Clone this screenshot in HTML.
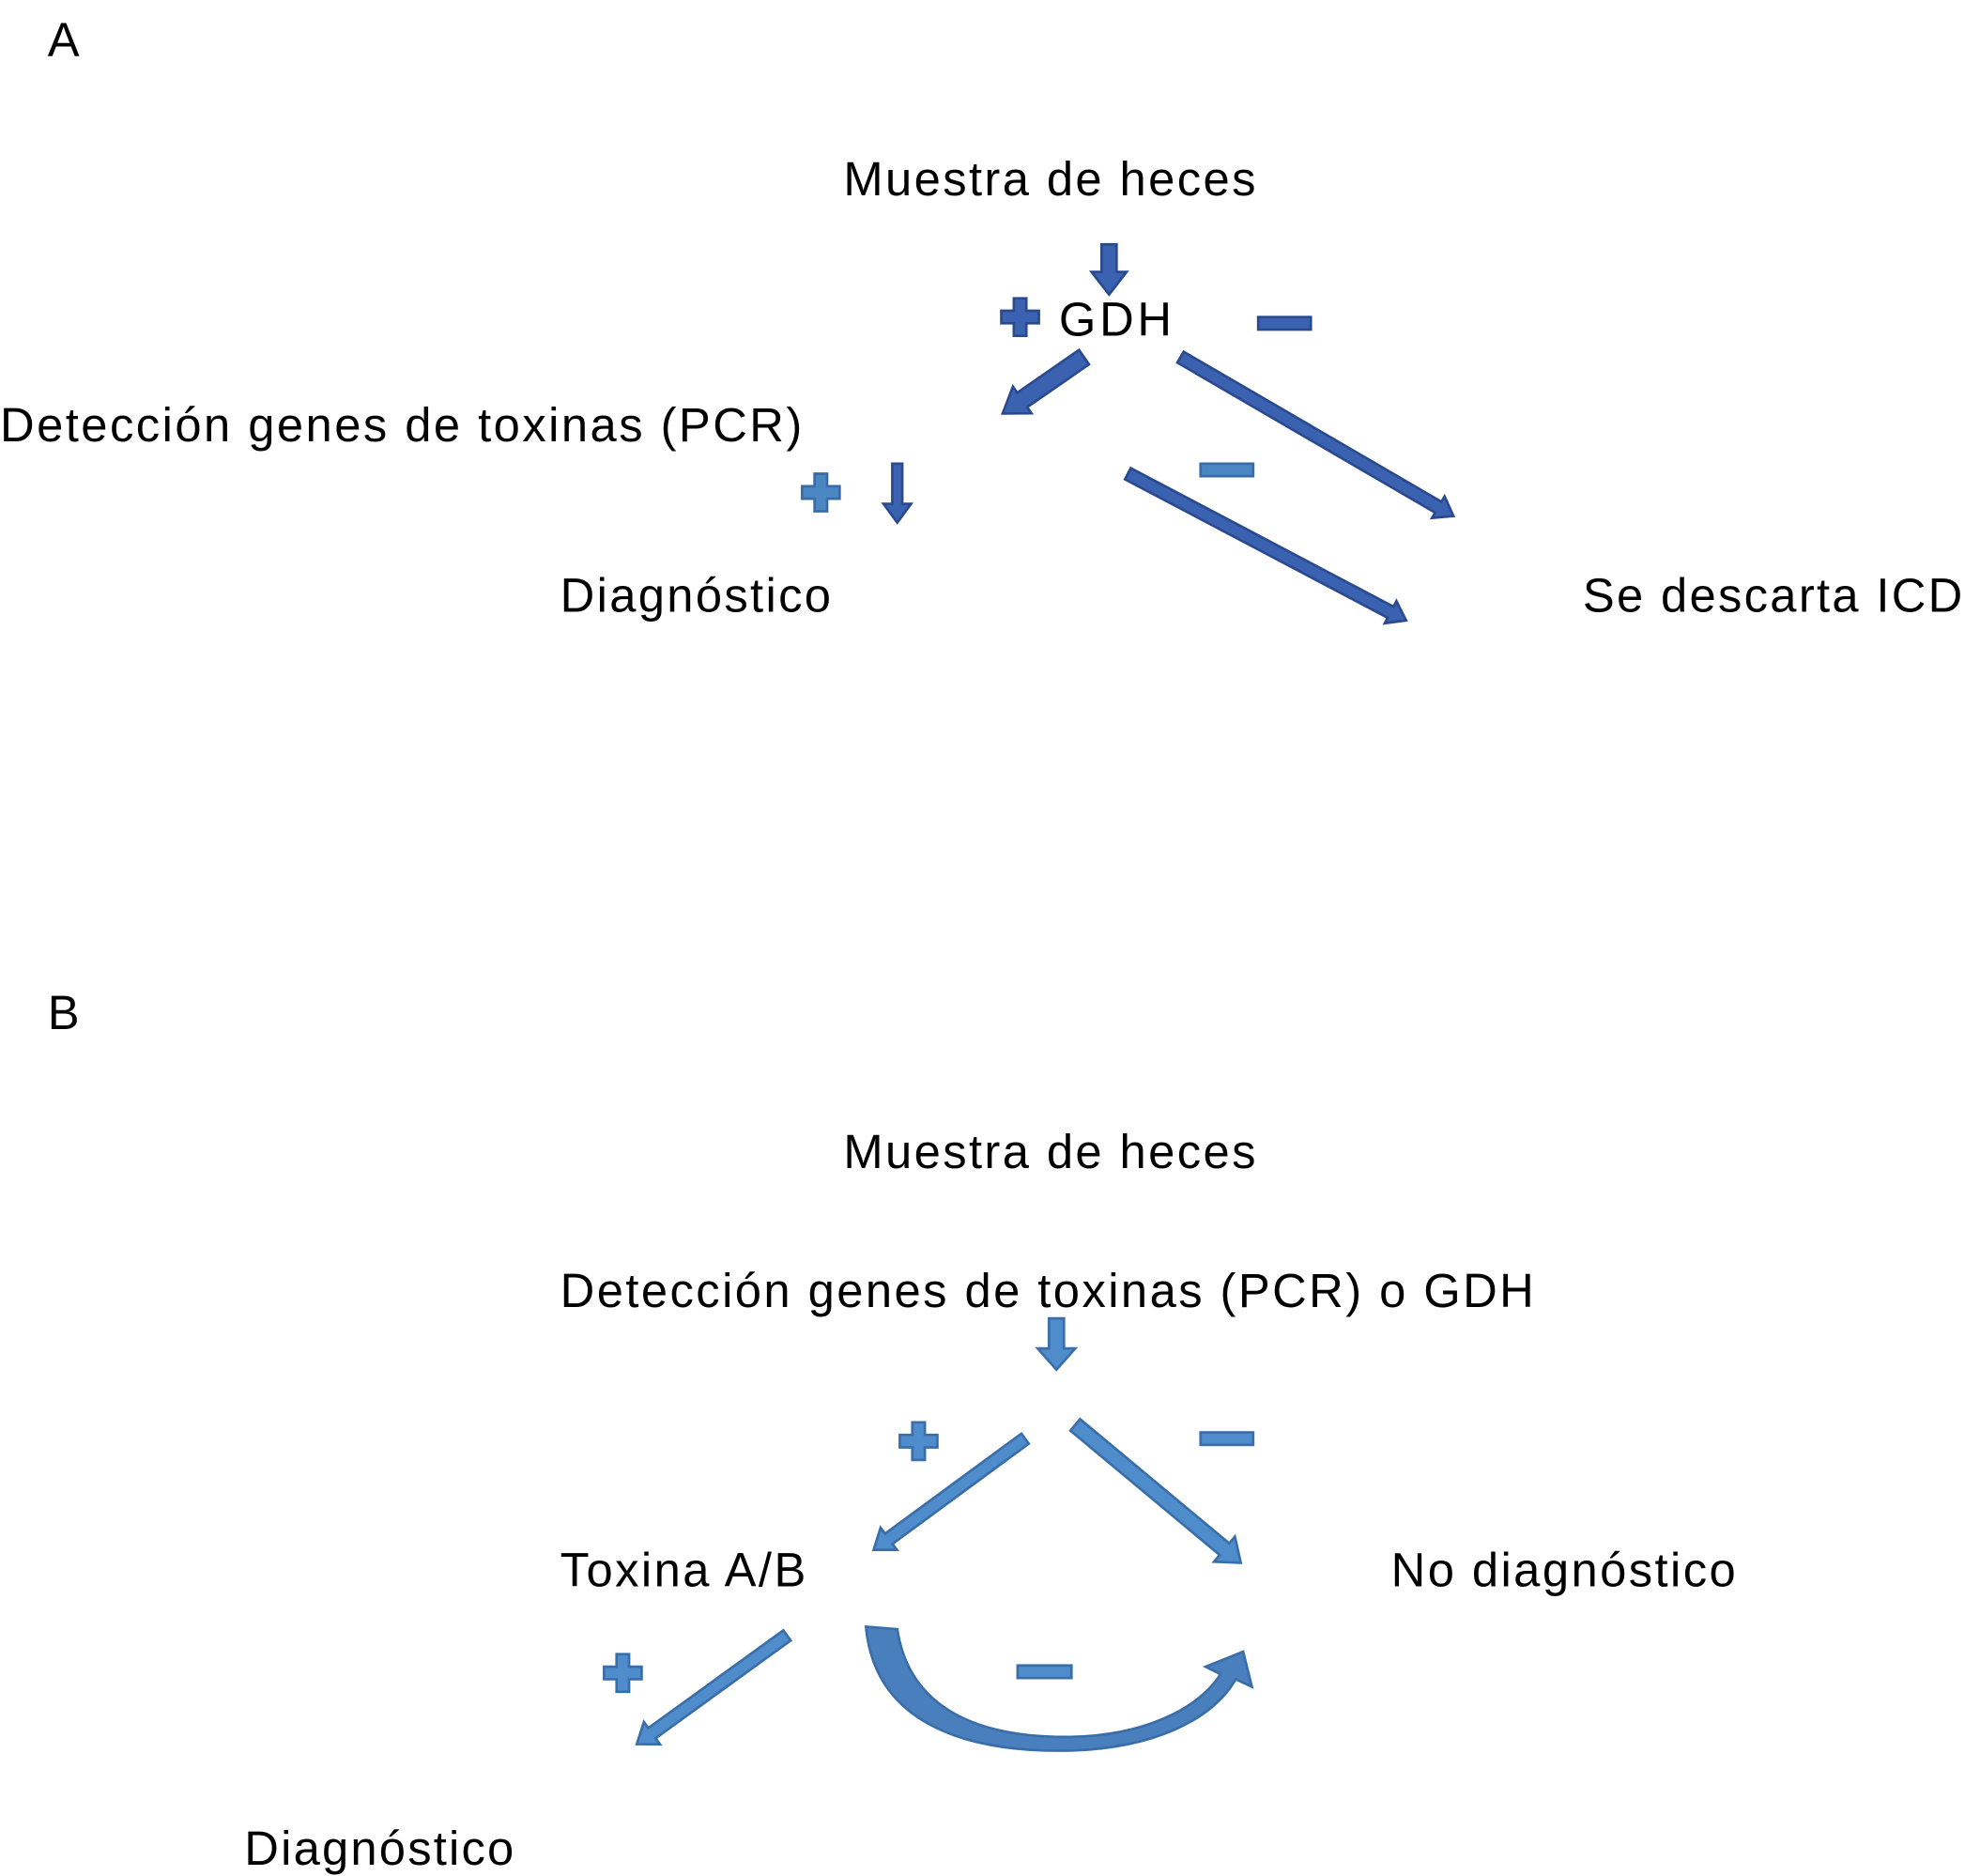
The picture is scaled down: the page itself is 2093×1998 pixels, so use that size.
<!DOCTYPE html>
<html><head><meta charset="utf-8"><style>html,body{margin:0;padding:0;background:#fff}svg{display:block}</style></head>
<body>
<svg width="2093" height="1998" viewBox="0 0 1568 1497" preserveAspectRatio="none" xmlns="http://www.w3.org/2000/svg">
<defs>
<style>text{font-family:"Liberation Sans",sans-serif;font-size:38px;fill:#000}</style>
</defs>
<rect width="1568" height="1497" fill="#fff"/>
<text x="38" y="45" font-size="42">A</text>
<text x="673" y="156" textLength="329">Muestra de heces</text>
<text x="845" y="268" textLength="90">GDH</text>
<text x="0" y="352" textLength="640">Detección genes de toxinas (PCR)</text>
<text x="447" y="488" textLength="216">Diagnóstico</text>
<text x="1263" y="488" textLength="303">Se descarta ICD</text>

<text x="38" y="821" font-size="42">B</text>
<text x="673" y="932" textLength="329">Muestra de heces</text>
<text x="447" y="1043" textLength="777">Detección genes de toxinas (PCR) o GDH</text>
<text x="447" y="1266" textLength="196">Toxina A/B</text>
<text x="1110" y="1266" textLength="275">No diagnóstico</text>
<text x="195" y="1488" textLength="215">Diagnóstico</text>

<!-- A arrows -->
<g fill="#3b62b0" stroke="#2a4a90" stroke-width="2">
<g transform="translate(885,195) rotate(90)"><polygon points="0,-6 22,-6 22,-14 40,0 22,14 22,6 0,6"/></g>
<g transform="translate(865,285) rotate(145.3)"><polygon points="0,-7 60,-7 60,-13 79,0 60,13 60,7 0,7"/></g>
<g transform="translate(942,285) rotate(30.2)"><polygon points="0,-5 238,-5 238,-10 252,0 238,10 238,5 0,5"/></g>
<g transform="translate(900,378) rotate(27.8)"><polygon points="0,-5 237,-5 237,-10 251,0 237,10 237,5 0,5"/></g>
<g transform="translate(716,370) rotate(90)"><polygon points="0,-4 32,-4 32,-11 47,0 32,11 32,4 0,4"/></g>
<polygon points="809,238 819,238 819,248 829,248 829,258 819,258 819,268 809,268 809,258 799,258 799,248 809,248"/>
<rect x="1004" y="253" width="42" height="10"/>
</g>
<g fill="#4a86c2" stroke="#3a6aa8" stroke-width="2">
<polygon points="650,378 660,378 660,388 670,388 670,398 660,398 660,408 650,408 650,398 640,398 640,388 650,388"/>
<rect x="958" y="370" width="42" height="10"/>
</g>

<!-- B arrows -->
<g fill="#4f8ccb" stroke="#3a6ea8" stroke-width="2">
<g transform="translate(843,1052) rotate(90)"><polygon points="0,-6 24,-6 24,-15 41,0 24,15 24,6 0,6"/></g>
<g transform="translate(818,1148) rotate(143.7)"><polygon points="0,-5 135,-5 135,-11 150,0 135,11 135,5 0,5"/></g>
<g transform="translate(858,1137) rotate(39.8)"><polygon points="0,-6 155,-6 155,-13 172,0 155,13 155,6 0,6"/></g>
<g transform="translate(628,1305) rotate(144.1)"><polygon points="0,-5 133,-5 133,-11 148,0 133,11 133,5 0,5"/></g>
<polygon points="728,1135 738,1135 738,1145 748,1145 748,1155 738,1155 738,1165 728,1165 728,1155 718,1155 718,1145 728,1145"/>
<rect x="958" y="1143" width="42" height="10"/>
<polygon points="492,1320 502,1320 502,1330 512,1330 512,1340 502,1340 502,1350 492,1350 492,1340 482,1340 482,1330 492,1330"/>
<rect x="812" y="1329" width="43" height="10"/>
<path d="M691,1298 C698,1375 770,1398 850,1397 C920,1396 968,1372 986,1340 L999,1346 L992,1318 L962,1330 L974,1336 C955,1365 910,1386 850,1386 C775,1386 725,1360 716,1300 Z" fill="#4a7fbd"/>
</g>
</svg>
</body></html>
